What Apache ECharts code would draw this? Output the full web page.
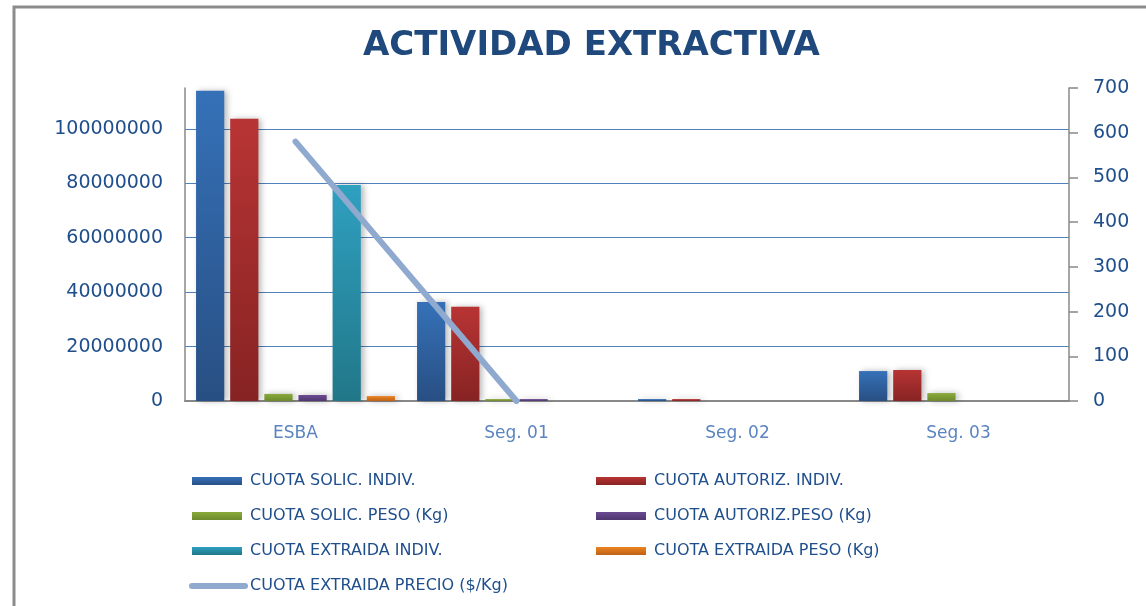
<!DOCTYPE html>
<html>
<head>
<meta charset="utf-8">
<script src="https://cdn.jsdelivr.net/npm/echarts@6/dist/echarts.min.js"></script>
<style>
html,body{margin:0;padding:0;background:#fff;}
#chart{width:1146px;height:606px;}
</style>
</head>
<body>
<div id="chart"></div>
<script>
var categories = ['ESBA', 'Seg. 01', 'Seg. 02', 'Seg. 03'];
var solicIndiv = [114000000, 36400000, 700000, 11000000];
var autorizIndiv = [103700000, 34600000, 700000, 11400000];
var solicPeso = [2600000, 700000, 0, 2900000];
var autorizPeso = [2200000, 700000, 0, 0];
var extraidaIndiv = [79400000, 0, 0, 0];
var extraidaPeso = [1800000, 0, 0, 0];
var extraidaPrecio = [580, 0, null, null];
var leftTicksMax = 115000000;
var rightTicksMax = 700;

var seriesNames = ['CUOTA SOLIC. INDIV.', 'CUOTA AUTORIZ. INDIV.', 'CUOTA SOLIC. PESO (Kg)',
  'CUOTA AUTORIZ.PESO (Kg)', 'CUOTA EXTRAIDA INDIV.', 'CUOTA EXTRAIDA PESO (Kg)', 'CUOTA EXTRAIDA PRECIO ($/Kg)'];

function grad(top, bottom) {
  return {type: 'linear', x: 0, y: 0, x2: 0, y2: 1,
    colorStops: [{offset: 0, color: top}, {offset: 1, color: bottom}]};
}
var barColors = [
  grad('#3571B8', '#284F83'),
  grad('#B83434', '#872323'),
  grad('#8AAA3C', '#6C8A2C'),
  grad('#6B4A92', '#4F376F'),
  grad('#2FA0C0', '#217788'),
  grad('#EB821F', '#BF6218')
];
var barData = [solicIndiv, autorizIndiv, solicPeso, autorizPeso, extraidaIndiv, extraidaPeso];

var series = barData.map(function (d, i) {
  return {
    name: seriesNames[i], type: 'bar', data: d, yAxisIndex: 0,
    barGap: '21%', barCategoryGap: '10%',
    itemStyle: {color: barColors[i], shadowBlur: 6, shadowColor: 'rgba(0,0,0,0.28)', shadowOffsetX: 3, shadowOffsetY: 0},
    emphasis: {disabled: true}
  };
});
series.push({
  name: seriesNames[6], type: 'line', data: extraidaPrecio, yAxisIndex: 1,
  symbol: 'none', connectNulls: false,
  lineStyle: {color: '#8FA9CF', width: 6, cap: 'round'},
  itemStyle: {color: '#8FA9CF'},
  z: 5
});

var txt = '#1F4E8C';
var legendText = {color: txt, fontFamily: 'DejaVu Sans', fontSize: 16, lineHeight: 20, padding: [0, 0, 0, 3]};
var lineLegendText = {color: txt, fontFamily: 'DejaVu Sans', fontSize: 16, lineHeight: 20, padding: [0, 0, 0, -3]};

var option = {
  animation: false,
  backgroundColor: '#fff',
  title: {
    text: 'ACTIVIDAD EXTRACTIVA', left: 358, top: 24,
    textStyle: {color: '#1F497D', fontFamily: 'DejaVu Sans', fontWeight: 'bold', fontSize: 34}
  },
  graphic: [{
    type: 'rect', shape: {x: 14, y: 7, width: 1300, height: 800},
    style: {fill: 'none', stroke: '#8C8C8C', lineWidth: 3}, silent: true, z: -1
  }],
  grid: {left: 185, right: 77, top: 88, bottom: 205},
  legend: [
    {orient: 'vertical', left: 192, top: 471, padding: 0, itemWidth: 50, itemHeight: 8, itemGap: 15,
      icon: 'rect', textStyle: legendText, selectedMode: false,
      data: [seriesNames[0], seriesNames[2], seriesNames[4]]},
    {orient: 'vertical', left: 596, top: 471, padding: 0, itemWidth: 50, itemHeight: 8, itemGap: 15,
      icon: 'rect', textStyle: legendText, selectedMode: false,
      data: [seriesNames[1], seriesNames[3], seriesNames[5]]},
    {orient: 'vertical', left: 189, top: 576, padding: 0, itemWidth: 59, itemHeight: 6, itemGap: 15,
      textStyle: lineLegendText, selectedMode: false,
      data: [{name: seriesNames[6], icon: 'path://M3,0 H56 A3,3 0 0 1 56,6 H3 A3,3 0 0 1 3,0 Z'}]}
  ],
  xAxis: {
    type: 'category', data: categories,
    axisLine: {lineStyle: {color: '#888', width: 2}},
    axisTick: {show: false},
    axisLabel: {color: '#5B84C0', fontFamily: 'DejaVu Sans', fontSize: 17, margin: 24}
  },
  yAxis: [
    {type: 'value', min: 0, max: leftTicksMax, interval: 20000000,
      axisLine: {show: true, lineStyle: {color: '#888', width: 1.5}},
      axisTick: {show: false},
      axisLabel: {color: txt, fontFamily: 'DejaVu Sans', fontSize: 19, margin: 22, showMaxLabel: false,
        formatter: function (v) { return String(v); }},
      splitLine: {show: true, lineStyle: {color: ['#4F81BD', '#4F81BD', '#4F81BD', '#4F81BD', '#4F81BD', '#4F81BD', 'rgba(0,0,0,0)'], width: 1.2}}
    },
    {type: 'value', min: 0, max: rightTicksMax, interval: 100, position: 'right',
      axisLine: {show: true, lineStyle: {color: '#888', width: 1.5}},
      axisTick: {show: true, length: 9, lineStyle: {color: '#888', width: 1.5}},
      axisLabel: {color: txt, fontFamily: 'DejaVu Sans', fontSize: 19, margin: 24},
      splitLine: {show: false}
    }
  ],
  series: series
};

var chart = echarts.init(document.getElementById('chart'), null, {renderer: 'canvas'});
chart.setOption(option);
</script>
</body>
</html>
